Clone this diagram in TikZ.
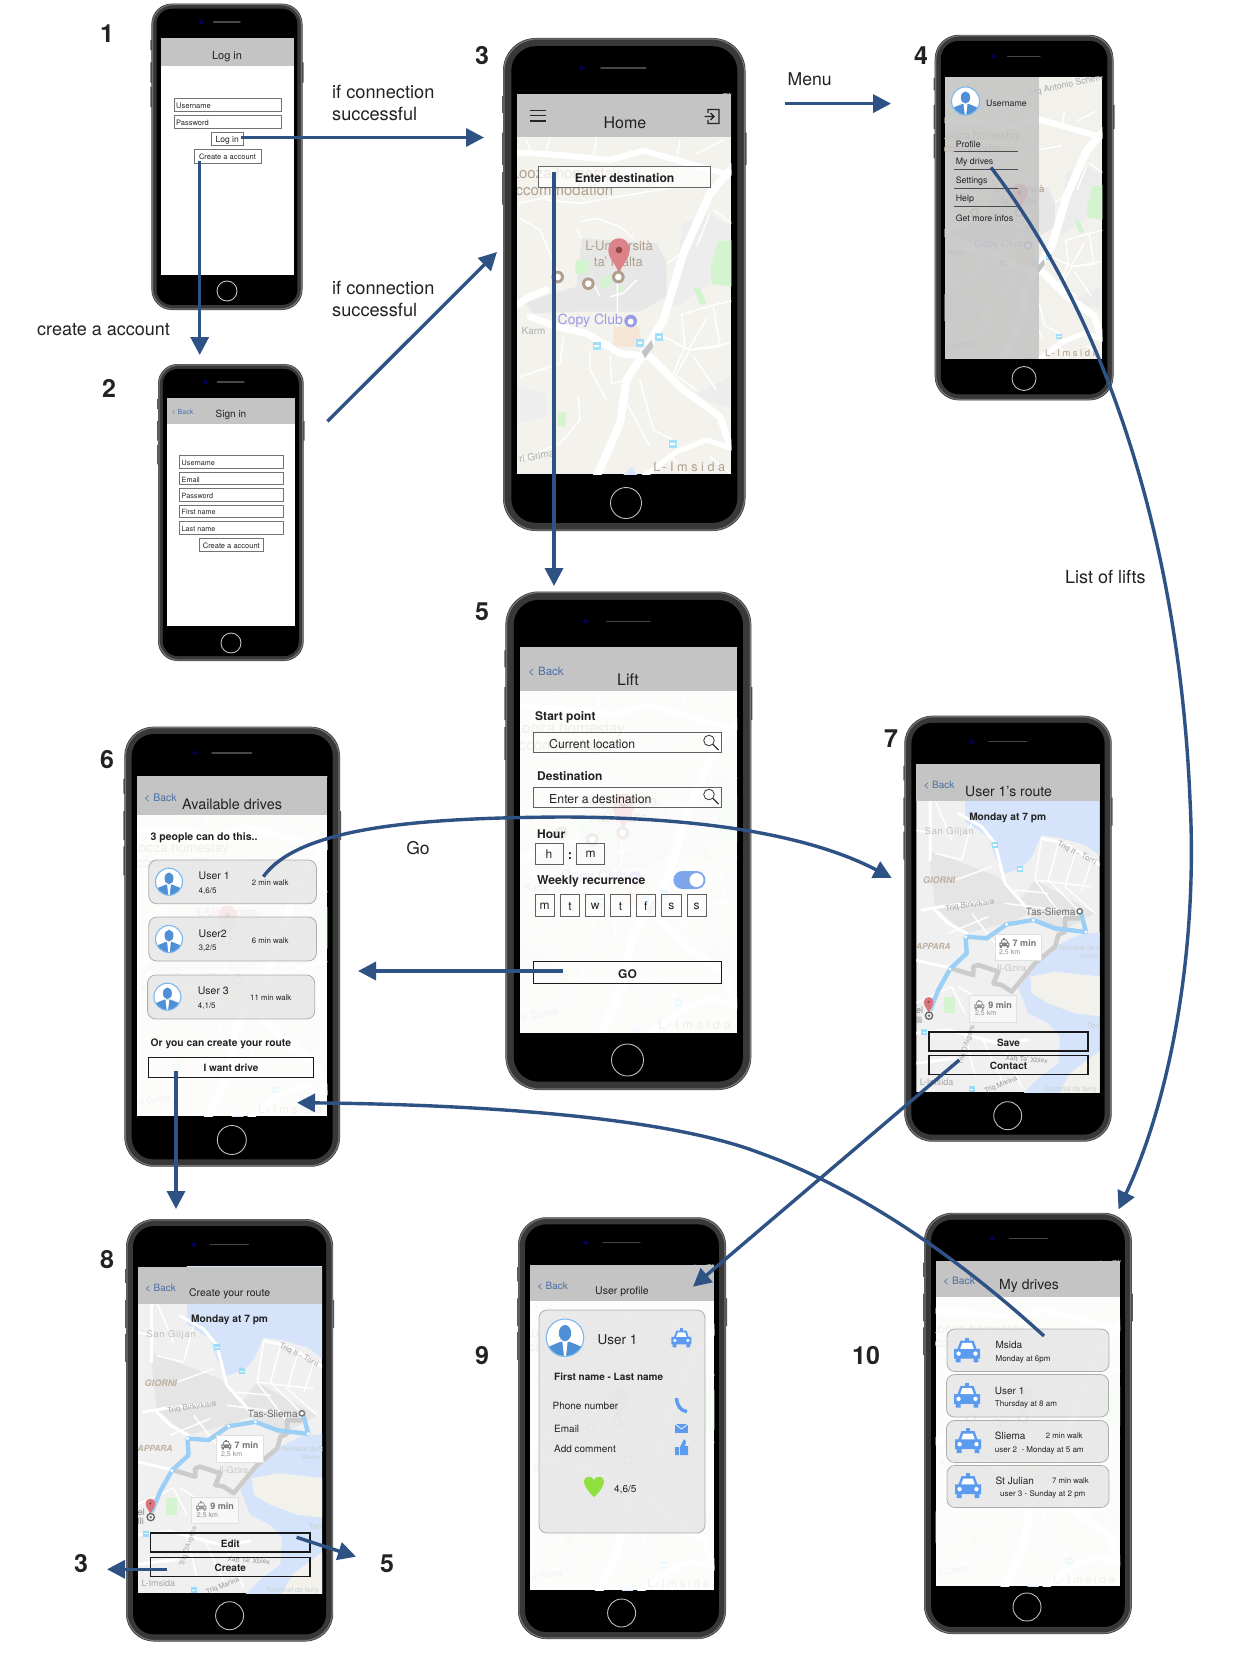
\documentclass[tikz,border=0pt]{standalone}
\usepackage{fontspec}
\setmainfont{TeX Gyre Heros}
\usetikzlibrary{arrows.meta}
\definecolor{conn}{HTML}{2F5285}
\definecolor{hdr}{HTML}{C4C4C4}
\definecolor{textdk}{HTML}{222222}
\definecolor{backblue}{HTML}{4A6FA5}
\definecolor{iconblue}{HTML}{5B9BF0}
\definecolor{mapbg}{HTML}{F2F1EC}
\definecolor{maptan}{HTML}{A8957F}
\definecolor{mapgrey}{HTML}{A5A5A5}
\definecolor{water}{HTML}{D5E4FB}
\definecolor{pinred}{HTML}{D9757D}
\definecolor{avblue}{HTML}{4F8FD6}
\definecolor{avring}{HTML}{7DB8EE}
\definecolor{routeblue}{HTML}{9CCFF5}
\definecolor{togglebl}{HTML}{7EA6EC}
\definecolor{heartgr}{HTML}{90E040}
\definecolor{copyclub}{HTML}{8F8FE6}
\newcounter{tn}
\newcommand\fs[1]{\fontsize{#1}{#1}\selectfont}
\tikzset{
  tnode/.style={inner sep=0pt,text=textdk,yshift=-1pt},
  conline/.style={draw=conn,line width=3.4pt,-{Triangle[length=18pt,width=18pt]}},
  fieldbox/.style={draw=#1,line width=.9pt},
  fieldbox/.default={gray!90!black},
  card/.style={draw=black!32,fill=black!10,fill opacity=.8,line width=.8pt,rounded corners=8pt},
  maproad/.style={draw=white,line width=#1,line join=round,line cap=round},
  maproad/.default=5pt,
  mapthin/.style={draw=white,line width=1.4pt,line join=round},
}
% text helpers: [opts]{x}{y}{size}{text}
\newcommand\mytx[5][]{\stepcounter{tn}\node[tnode,#1] (t\arabic{tn}) at (#2,#3) {\fs{#4}#5};}
\newcommand\mytl[5][]{\stepcounter{tn}\node[tnode,anchor=west,#1] (t\arabic{tn}) at (#2,#3) {\fs{#4}#5};}
\newcommand\mapt[5][]{\stepcounter{tn}\node[inner sep=0pt,transform shape,#1] (t\arabic{tn}) at (#2,#3) {\fs{#4}#5};}
% phone {x0}{y0}{x1}{y1}
\newcommand\phoneshell[4]{%
  \pgfmathsetmacro\pw{#3-#1}\pgfmathsetmacro\ph{#4-#2}%
  \pgfmathsetmacro\pr{.135*\pw}\pgfmathsetmacro\pb{.034*\pw}%
  \pgfmathsetmacro\ra{#2+.118*\ph}\pgfmathsetmacro\rb{#2+.152*\ph}%
  \pgfmathsetmacro\rc{#2+.192*\ph}\pgfmathsetmacro\rd{#2+.258*\ph}%
  \pgfmathsetmacro\re{#2+.272*\ph}\pgfmathsetmacro\rf{#2+.338*\ph}%
  \fill[black!65] (#1-1,\ra) rectangle (#1+2,\rb) (#1-1,\rc) rectangle (#1+2,\rd) (#1-1,\re) rectangle (#1+2,\rf) (#3-2,\rc) rectangle (#3+1,\rd);
  \fill[black!78,rounded corners=\pr pt] (#1,#2) rectangle (#3,#4);
  \draw[black!55,line width=1.2pt,rounded corners=\pr pt] (#1+1,#2+1) rectangle (#3-1,#4-1);
  \pgfmathsetmacro\prr{\pr-\pb}%
  \fill[black,rounded corners=\prr pt] (#1+\pb,#2+\pb) rectangle (#3-\pb,#4-\pb);
}
% {camx}{camy}{spk0}{spk1}{homex}{homey}{homer}
\newcommand\phonedec[7]{%
  \fill[blue!35!black] (#1,#2) circle [radius=2.2];
  \draw[black!72,line width=1.4pt,line cap=round] (#3,#2) -- (#4,#2);
  \draw[black!25,line width=.9pt] (#5,#6) circle [radius=#7];
}
\newcommand\hdrbar[4]{\fill[hdr] (#1,#2) rectangle (#3,#4);}
\newcommand\btnbox[7][]{% [style]{x0}{y0}{x1}{y1}{size}{text}
  \stepcounter{tn}\draw[fieldbox,#1] (#2,#3) rectangle (#4,#5) node[midway,tnode] (t\arabic{tn}) {\fs{#6}#7};}
\newcommand\fieldl[7][]{% left-aligned text field
  \draw[fieldbox,#1] (#2,#3) rectangle (#4,#5);
  \stepcounter{tn}\node[tnode,anchor=west] (t\arabic{tn}) at ({#2+2},{(#3+#5)/2}) {\fs{#6}#7};}
\newcommand\caricon[4]{\begin{scope}[shift={(#1,#2)},scale=#3]
  \fill[#4,rounded corners=.15pt] (-1,-.15) rectangle (1,.6);
  \fill[#4] (-.88,.5) rectangle (-.5,.9) (.5,.5) rectangle (.88,.9);
  \fill[#4] (-.75,-.1)--(-.5,-.78)--(.5,-.78)--(.75,-.1)--cycle;
  \fill[#4] (-.17,-1)rectangle(.17,-.75);
  \fill[white] (-.52,-.15)--(-.36,-.6)--(.36,-.6)--(.52,-.15)--cycle;
  \fill[white] (-.65,.22) circle [radius=.17] (.65,.22) circle [radius=.17];
\end{scope}}
\newcommand\avatarpic[3]{\begin{scope}[shift={(#1,#2)},scale=#3]
  \begin{scope}
  \clip (0,0) circle [radius=1];
  \fill[white] (0,0) circle [radius=1];
  \fill[avblue] (0,-.25) ellipse [x radius=.33,y radius=.43];
  \fill[avblue] (-1,1.05)--(-.92,.5)--(-.25,.22)--(.25,.22)--(.92,.5)--(1,1.05)--cycle;
  \fill[white] (-.14,.22)--(.14,.22)--(.05,1)--(-.05,1)--cycle;
  \end{scope}
  \draw[avring,line width=1.1pt] (0,0) circle [radius=1];
\end{scope}}
\newcommand\searchicon[2]{%
  \draw[black!80,line width=.8pt] (#1-1.5,#2-1.5) circle [radius=5.3];
  \draw[black!80,line width=1.1pt] (#1+2.3,#2+2.3) -- (#1+8,#2+8);}
% campus map in screen {x0}{y0}{x1}{y1}, veil opacity
\newcommand\campusmap[5]{\begin{scope}
  \clip (#1,#2) rectangle (#3,#4);
  \fill[mapbg] (#1,#2) rectangle (#3,#4);
  \pgfmathsetmacro\mxs{(#3-#1)/214.3}\pgfmathsetmacro\mys{(#4-#2)/380.3}
  \begin{scope}[shift={(#1,#2)},xscale=\mxs,yscale=\mys]
  \begin{scope}[shift={(-7,36.3)},scale=1/3]
    \fill[black!10] (215,325)--(440,340)--(470,400)--(470,500)--(390,545)--(200,545)--(70,550)--(45,520)--(130,490)--(200,470)--cycle;
    \fill[black!8] (520,280)--(600,250)--(660,290)--(660,330)--(600,460)--(500,530)--(480,520)--cycle;
    \fill[black!8] (560,790)--(660,740)--(660,830)--(610,820)--cycle;
    \fill[black!7] (20,770)--(110,790)--(110,860)--(20,880)--cycle;
    \fill[green!14!mapbg] (198,392)--(240,388)--(232,432)--(195,432)--cycle (270,445)--(310,430)--(300,470)--(272,475)--cycle (625,335)--(665,330)--(665,470)--(605,462)--(602,410)--cycle (550,470)--(570,475)--(590,520)--(570,525)--cycle (142,848)--(168,846)--(166,890)--(142,888)--cycle (320,470)--(342,470)--(335,490)--cycle;
    \fill[orange!12!mapbg] (312,590)--(385,590)--(400,652)--(310,648)--cycle;
    \fill[water] (335,1040)--(365,1010)--(385,1040)--cycle;
    \path[mapthin] (215,275)--(260,265)--(330,290)--(370,325) (200,295)--(215,325) (470,400)--(530,360) (380,450)--(340,490)--(300,500) (322,460)--(322,590) (240,440)--(270,500)
      (610,240)--(680,290) (600,250)--(560,350) (510,555)--(610,525)--(680,510) (515,555)--(525,650)--(490,730)--(560,780) (610,530)--(630,650)--(540,660)--(430,605) (590,565)--(535,660)--(660,640) (540,660)--(500,730) (550,680)--(620,780)
      (30,265)--(90,300)--(150,440) (100,170)--(110,210)--(210,220)--(500,170) (25,220)--(120,200) (240,660)--(240,720)--(290,810) (300,680)--(305,760)--(350,750) (160,620)--(150,700)--(30,740) (205,800)--(210,870)--(150,940)--(30,990) (390,750)--(430,900)--(490,930) (350,820)--(420,950) (50,30)--(60,60) (120,25)--(110,60) (260,20)--(250,80) (510,30)--(500,90) (560,70)--(640,30) (600,980)--(660,1030) (480,970)--(520,1030);
    \path[maproad=6pt] (-20,65)--(150,75)--(300,90)--(400,62)--(500,90)--(640,130)--(700,125);
    \path[maproad=8pt] (680,100)--(600,190)--(520,370)--(460,570)--(400,670)--(350,750)--(330,880)--(255,1050);
    \path[maproad=7pt] (-20,550)--(60,500)--(110,480) (60,560)--(140,590)--(230,610)--(330,670)--(420,680)--(520,780)--(630,860)--(660,950);
    \path[maproad=5pt] (400,1040)--(500,965)--(590,930)--(680,960);
    \fill[black!25] (395,665) -- (425,630) -- (430,650) -- (405,685) -- cycle;
    \mapt[anchor=west,text=maptan]{2}{135}{45}{Looza homestay}
    \mapt[anchor=west,text=maptan]{-8}{180}{45}{accommodation}
    \mapt[text=mapgrey,rotate=12]{531}{-76}{36}{Triq Antonio Schembri}
    \mapt[text=maptan]{327}{347}{39}{L-Università}
    \mapt[text=maptan]{325}{395}{39}{ta' Malta}
    \fill[pinred] (327,435) .. controls (320,400) and (295,390) .. (295,360) .. controls (295,313) and (359,313) .. (359,360) .. controls (359,390) and (334,400) .. (327,435) -- cycle;
    \fill[red!40!black!80] (327,360) circle [radius=10];
    \foreach \mx/\my in {143/441,235/461,325/441} {\fill[maptan] (\mx,\my) circle [radius=19]; \fill[white] (\mx,\my) circle [radius=10];}
    \mapt[anchor=west,text=copyclub]{143}{572}{42}{Copy Club}
    \fill[copyclub] (362,573) circle [radius=19]; \fill[white] (362,575) circle [radius=9];
    \mapt[anchor=west,text=mapgrey]{35}{603}{30}{Karm}
    \mapt[rotate=10,text=mapgrey]{80}{978}{30}{ri Grima}
    \mapt[anchor=west,text=maptan]{430}{1010}{38}{\addfontfeature{LetterSpace=28}L-Imsida}
    \foreach \mx/\my in {260/647,390/640,447/622,488/943} {\fill[cyan!40!white] (\mx-12,\my-12) rectangle (\mx+12,\my+12); \fill[white] (\mx-7,\my-3) rectangle (\mx+7,\my+3);}
  \end{scope}
  \end{scope}
  \fill[white,opacity=#5] (#1,#2) rectangle (#3,#4);
\end{scope}}
% Sliema map in screen {x0}{y0}{x1}{y1}
\newcommand\sliemamap[4]{\begin{scope}
  \clip (#1,#2) rectangle (#3,#4);
  \fill[black!6] (#1,#2) rectangle (#3,#4);
  \pgfmathsetmacro\mxs{(#3-#1)/183.4}\pgfmathsetmacro\mys{(#4-#2)/328.3}
  \begin{scope}[shift={(#1,#2)},xscale=\mxs,yscale=\mys]
  \begin{scope}[shift={(-1.3,36)},scale=1/3]
    \fill[black!10] (40,150)--(250,230)--(350,340)--(270,370)--(150,400)--(60,320)--cycle (360,240)--(540,340)--(430,400)--(300,320)--cycle;
    \fill[water] (150,-120)--(565,-120)--(565,175)--(510,135)--(440,115)--(380,105)--(350,170)--(320,205)--(265,222)--(240,170)--(220,110)--(150,65)--cycle;
    \fill[water] (565,395)--(490,405)--(420,440)--(360,500)--(310,565)--(340,640)--(400,670)--(435,710)--(430,790)--(370,835)--(320,885)--(565,885)--cycle;
    \fill[mapbg] (345,530)--(420,515)--(565,530)--(565,650)--(480,640)--(400,610)--(350,580)--cycle;
    \fill[mapbg] (430,885)--(465,820)--(565,745)--(565,885)--cycle;
    \path[maproad=3pt] (45,-100)--(45,180) (130,40)--(200,80)--(240,130)--(270,250)--(350,340) (20,330)--(90,318)--(220,305) (60,330)--(100,370)--(155,400) (0,480)--(110,505) (380,115)--(450,130)--(565,200) (0,700)--(100,690)--(250,730)--(340,720) (0,790)--(120,775);
    \path[mapthin] (380,115)--(360,240)--(450,360) (430,130)--(400,240)--(500,340) (480,160)--(450,260)--(540,340) (530,180)--(500,270) (360,240)--(530,260) (300,270)--(400,280) (270,310)--(430,330) (170,70)--(140,180)--(60,160) (120,240)--(230,200) (100,400)--(220,350) (170,340)--(240,430) (0,610)--(110,560)--(150,640) (130,560)--(260,640) (150,700)--(180,830) (200,710)--(260,840) (60,0)--(110,120) (0,90)--(45,100) (260,730)--(320,860);
    \fill[green!12!mapbg] (88,590) rectangle (120,640);
    \path[draw=black!20,line width=4.6pt,line join=round] (108,505)--(175,525)--(175,500)--(190,495)--(250,515)--(235,550)--(260,555)--(290,575)--(360,490)--(420,440)--(430,405)--(450,395)--(450,355)--(495,355);
    \path[draw=routeblue,line width=4.4pt,line join=round] (45,632)--(70,570)--(105,507)--(155,460)--(152,410)--(215,415)--(275,373)--(355,360)--(420,385)--(513,396)--(497,335);
    \foreach \mx/\my in {105/507,152/410,275/373,355/360,513/396} {\fill[white] (\mx,\my) circle [radius=5];}
    \draw[black!55,fill=white,line width=1.4pt] (494,334) circle [radius=8];
    \mapt[text=black!25]{103}{97}{28}{\addfontfeature{LetterSpace=8}San Giljan}
    \mapt[text=maptan!75]{72}{242}{27}{\itshape\bfseries GIORNI}
    \mapt[text=black!35,rotate=8]{165}{317}{24}{Triq Birkirkara}
    \mapt[text=black!58]{407}{336}{30}{Tas-Sliema}
    \mapt[text=maptan!75]{55}{440}{25}{\itshape\bfseries APPARA}
    \mapt[text=black!22]{290}{505}{27}{Il-Gzira}
    \mapt[text=black!35,rotate=-27]{485}{160}{24}{Triq It - Torri}
    \mapt[text=cyan!25!black!25,anchor=west]{430}{445}{21}{Terminal de ferry}
    \mapt[text=cyan!25!black!25]{520}{468}{18}{Sliema}
    \mapt[text=black!50,anchor=west]{3}{632}{27}{el}
    \mapt[text=black!50,anchor=west]{3}{660}{27}{lli}
    \mapt[text=cyan!25!black!25,anchor=west]{515}{677}{24}{Ten}
    \mapt[text=black!35,rotate=72]{155}{735}{21}{Triq D'Argens}
    \mapt[text=black!40,rotate=22]{258}{855}{21}{Triq Marina}
    \mapt[text=black!40,rotate=-4]{335}{778}{21}{Xatt Ta' Xbiex}
    \mapt[text=black!35]{65}{848}{27}{L-Imsida}
    \mapt[text=cyan!25!black!25,anchor=west]{388}{870}{21}{Terminal de ferry}
    \foreach \mx/\my in {240/135,315/207,28/697,170/868} {\fill[cyan!40!white] (\mx-9,\my-9) rectangle (\mx+9,\my+9); \fill[white] (\mx-5,\my-2) rectangle (\mx+5,\my+2);}
    \fill[pinred] (41,640) .. controls (37,625) and (27,620) .. (27,607) .. controls (27,586) and (55,586) .. (55,607) .. controls (55,620) and (45,625) .. (41,640) -- cycle;
    \fill[red!40!black!70] (41,606) circle [radius=4];
    \draw[black!60,line width=1.3pt] (42,647) circle [radius=11]; \fill[black!60] (42,647) circle [radius=4];
    \fill[white,draw=black!12,line width=1pt] (240,402) rectangle (378,482);
    \mapt[anchor=west,text=black!55]{293}{430}{27}{\bfseries 7 min}
    \mapt[anchor=west,text=black!45]{252}{457}{21}{2,5 km}
    \fill[black!3,draw=black!12,line width=1pt] (163,587) rectangle (303,667);
    \mapt[anchor=west,text=black!55]{220}{615}{27}{\bfseries 9 min}
    \mapt[anchor=west,text=black!45]{180}{641}{21}{2,5 km}
  \end{scope}
  \pgfmathsetmacro\cxa{(268/3-1.3)}\pgfmathsetmacro\cya{(430/3+36)}\pgfmathsetmacro\cxb{(193/3-1.3)}\pgfmathsetmacro\cyb{(615/3+36)}
  \caricon{\cxa}{\cya}{5}{black!50}
  \caricon{\cxb}{\cyb}{5}{black!40}
  \end{scope}
\end{scope}}
\begin{document}
\begin{tikzpicture}[x=1pt,y=-1pt,line cap=butt]
\useasboundingbox (0,0) rectangle (1239,1653);
\fill[white] (0,0) rectangle (1239,1653);

%%% Phone 1
\phoneshell{151.4}{3.6}{302.5}{310}
\fill[white] (160.5,38.4) rectangle (293.8,274.5);
\hdrbar{160.5}{38.4}{293.8}{66}
\mytx{227}{56}{11}{Log in}
\fieldl{174}{98.6}{281}{111.6}{7.5}{Username}
\fieldl{174}{115}{281}{128.6}{7.5}{Password}
\btnbox{211.5}{132.6}{243}{145.5}{8.5}{Log in}
\btnbox{194}{149.5}{261}{163}{7.5}{Create a account}
\phonedec{201}{22}{213.5}{240}{227}{291}{10}

%%% Phone 2
\phoneshell{158}{364}{303.7}{661}
\fill[white] (166.5,398) rectangle (295.4,626.3);
\hdrbar{166.5}{398}{295.4}{424}
\mytl[text=backblue]{171.5}{411}{7}{< Back}
\mytx{231}{414}{10}{Sign in}
\fieldl{179.5}{455.8}{283}{468.3}{7.2}{Username}
\fieldl{179.5}{472.3}{283}{484.8}{7.2}{Email}
\fieldl{179.5}{488.8}{283}{501}{7.2}{Password}
\fieldl{179.5}{505.3}{283}{517.4}{7.2}{First name}
\fieldl{179.5}{521.4}{283}{534}{7.2}{Last name}
\btnbox{199.3}{538.4}{263.3}{551}{7.5}{Create a account}
\phonedec{205.6}{382}{217.5}{244}{231}{643}{10}

%%% Phone 3
\phoneshell{503}{38}{745.5}{531}
\campusmap{517}{93.7}{731.3}{474}{.1}
\hdrbar{517}{93.7}{731.3}{136.6}
\mytx{625}{122}{16}{Home}
\draw[black!85,line width=1.4pt] (530,110.3)--(545.6,110.3) (530,115.6)--(545.6,115.6) (530,121)--(545.6,121);
\draw[black!85,line width=1.3pt] (708,113)--(708,109.5)--(719,109.5)--(719,123.5)--(708,123.5)--(708,120) (704.5,116.5)--(714,116.5) (710.5,113)--(714,116.5)--(710.5,120);
\btnbox[fill=white,fill opacity=.75,text opacity=1,draw=black!60]{538.5}{166}{710.8}{187.5}{12.2}{\bfseries Enter destination}
\phonedec{581.6}{68}{601}{645.7}{626}{503}{15.5}

%%% Phone 4
\phoneshell{934.7}{34.8}{1113.5}{400.4}
\campusmap{944.5}{76.8}{1102.4}{358.5}{.05}
\fill[hdr,opacity=.86] (944.5,76.8) rectangle (1039,358.5);
\avatarpic{965.5}{101}{14}
\mytl{986}{102}{8.8}{Username}
\mytl{955.6}{143}{8.8}{Profile}
\mytl{955.6}{161.6}{8.8}{My drives}
\mytl{955.6}{180}{8.8}{Settings}
\mytl{955.6}{198.6}{8.8}{Help}
\mytl{955.6}{217.4}{8.8}{Get more infos}
\draw[black!70,line width=1pt] (954.4,151.8)--(1018,151.8) (954.4,170)--(1018,170) (954.4,188.8)--(1018,188.8) (954.4,207)--(1018,207);
\phonedec{993}{56.7}{1007.7}{1040}{1024}{378.5}{12}

%%% Phone 5
\phoneshell{505.4}{591.5}{751.3}{1090}
\campusmap{520}{647}{737}{1032.6}{.83}
\hdrbar{520}{647}{737}{691}
\mytl[text=backblue]{528}{671}{11.5}{< Back}
\mytx{628}{679}{16}{Lift}
\mytl{535}{716.7}{12}{\bfseries Start point}
\draw[fieldbox=black!62] (533.6,732) rectangle (721.4,752.7);
\mytl{549}{743.3}{12.2}{Current location}
\searchicon{710.5}{742}
\mytl{537}{774.7}{12}{\bfseries Destination}
\draw[fieldbox=black!62] (533.6,787.3) rectangle (721.4,807.3);
\mytl{549}{797.7}{12.3}{Enter a destination}
\searchicon{710.5}{796}
\mytl{537}{833}{12}{\bfseries Hour}
\btnbox[black!62]{535}{843}{563}{864}{12}{h}
\mytx{570}{854.7}{13}{\bfseries :}
\btnbox[black!62]{576.6}{843}{604.4}{864}{12}{m}
\mytl{537}{880.7}{12.2}{\bfseries Weekly recurrence}
\fill[togglebl,rounded corners=8.9pt] (673.4,871) rectangle (705.4,889);
\fill[white] (696.5,880) circle [radius=7];
\btnbox[black!62]{535}{894.7}{554.4}{916}{12}{m}
\btnbox[black!62]{560.3}{894.7}{579.6}{916}{12}{t}
\btnbox[black!62]{585.5}{894.7}{604.9}{916}{12}{w}
\btnbox[black!62]{610.8}{894.7}{630.2}{916}{12}{t}
\btnbox[black!62]{636}{894.7}{655.4}{916}{12}{f}
\btnbox[black!62]{661.7}{894.7}{681}{916}{12}{s}
\btnbox[black!62]{687}{894.7}{706.3}{916}{12}{s}
\btnbox[draw=black!90,line width=1.1pt]{533.6}{961.7}{721.4}{983.7}{12}{\bfseries GO}
\phonedec{585.6}{621.4}{607}{650}{627.5}{1060}{16}

%%% Phone 6
\phoneshell{124.4}{726.7}{340}{1166.7}
\campusmap{137}{776.3}{327.3}{1116}{.84}
\hdrbar{137}{776.3}{327.3}{814.7}
\mytl[text=backblue]{144}{797}{10.5}{< Back}
\mytl{182}{803}{14.4}{Available drives}
\mytl{150.5}{837}{10.5}{\bfseries 3 people can do this..}
\draw[card] (148.8,860) rectangle (316.4,903.7);
\draw[card] (148.8,917) rectangle (316.4,961);
\draw[card] (147.6,975) rectangle (314.7,1019);
\avatarpic{169}{881.7}{13.5}
\avatarpic{169}{939}{13.5}
\avatarpic{167.4}{996.7}{13.5}
\mytl{198.5}{875}{10.5}{User 1}
\mytl{198.5}{889.7}{8}{4,6/5}
\mytl{251.6}{881.7}{7.8}{2 min walk}
\mytl{198.5}{932.3}{10.5}{User2}
\mytl{198.5}{947}{8}{3,2/5}
\mytl{251.6}{939.3}{7.8}{6 min walk}
\mytl{197.7}{990}{10.5}{User 3}
\mytl{197.7}{1004.7}{8}{4,1/5}
\mytl{250}{996.7}{7.8}{11 min walk}
\mytl{150.5}{1042.7}{10.3}{\bfseries Or you can create your route}
\btnbox[draw=black!90,line width=1pt]{148.4}{1057.3}{313.5}{1077.3}{10}{\bfseries I want drive}
\phonedec{194.7}{753}{212}{251.6}{231.8}{1140}{14.5}

%%% Phone 7
\phoneshell{904.3}{715.7}{1111.7}{1141.7}
\sliemamap{916.3}{764}{1099.7}{1092.3}
\hdrbar{916.3}{764}{1099.7}{801}
\mytl[text=backblue]{923.3}{784.3}{10}{< Back}
\mytl{965}{791}{14}{User 1's route}
\mytx{1007.7}{816.7}{10.2}{\bfseries Monday at 7 pm}
\btnbox[draw=black!90,line width=1.1pt]{929}{1032}{1088}{1051}{10}{\bfseries Save}
\btnbox[draw=black!90,line width=1.1pt]{929}{1055.7}{1088}{1074.7}{10}{\bfseries Contact}
\phonedec{972}{741.7}{989}{1026.7}{1007.7}{1115.7}{14}

%%% Phone 8
\phoneshell{126}{1219}{333.2}{1641.5}
\sliemamap{138}{1266.7}{322}{1593.3}
\hdrbar{138}{1266.7}{322}{1303.7}
\mytl[text=backblue]{144.8}{1287}{10}{< Back}
\mytx{229.6}{1293}{10.5}{Create your route}
\mytx{229.6}{1319}{10.2}{\bfseries Monday at 7 pm}
\btnbox[draw=black!90,line width=1.1pt]{150.6}{1533}{310}{1552}{10}{\bfseries Edit}
\btnbox[draw=black!90,line width=1.1pt]{150.6}{1557.7}{310}{1576.7}{10}{\bfseries Create}
\phonedec{194}{1244.7}{210.4}{248.4}{229.6}{1615.7}{14}

%%% Phone 9
\phoneshell{518}{1217.3}{726}{1639}
\campusmap{530}{1264.7}{714.4}{1590.3}{.84}
\hdrbar{530}{1264.7}{714.4}{1301}
\mytl[text=backblue]{536.8}{1284.7}{10}{< Back}
\mytx{622}{1291}{10.5}{User profile}
\draw[card] (539,1310) rectangle (705,1533);
\avatarpic{565}{1337.7}{18.7}
\mytl{597.5}{1339}{13.5}{User 1}
\caricon{681.4}{1338.3}{10}{iconblue}
\mytl{554}{1376.3}{10}{\bfseries First name - Last name}
\mytl{552.4}{1405.3}{10}{Phone number}
\mytl{554}{1428.3}{10}{Email}
\mytl{554}{1448.3}{10}{Add comment}
\draw[iconblue,line width=3.4pt] (676.5,1398) .. controls (677,1406) and (681,1411) .. (687,1411.5);
\fill[iconblue] (675,1423.5) rectangle (688,1433);
\draw[white,line width=.7pt] (675,1424)--(681.5,1429)--(688,1424);
\fill[iconblue] (675,1447) rectangle (679,1455) (680,1447)--(684,1439)--(686,1441)--(685,1446)--(688,1446)--(688,1455)--(680,1455)--cycle;
\fill[heartgr] (594,1497) .. controls (586,1490) and (584,1484) .. (584,1481) .. controls (584,1476) and (592,1475) .. (594,1480) .. controls (596,1475) and (604,1476) .. (604,1481) .. controls (604,1484) and (602,1490) .. (594,1497) -- cycle;
\mytl{614}{1488.7}{10}{4,6/5}
\phonedec{586}{1242.7}{603}{640}{621.6}{1613}{14}

%%% Phone 10
\phoneshell{924}{1212.8}{1131.8}{1634}
\campusmap{935.7}{1260.7}{1120}{1586}{.84}
\hdrbar{935.7}{1260.7}{1120}{1297}
\mytl[text=backblue]{943}{1280.5}{10.3}{< Back}
\mytl{999}{1285}{14}{My drives}
\draw[card] (947,1329) rectangle (1109,1371.5);
\draw[card] (946.5,1374.5) rectangle (1108.5,1417);
\draw[card] (946.5,1420.5) rectangle (1108.5,1462.4);
\draw[card] (947,1465.5) rectangle (1109,1507.4);
\caricon{967}{1350.7}{13}{iconblue}
\caricon{967}{1396}{13}{iconblue}
\caricon{968}{1441.3}{13}{iconblue}
\caricon{968}{1486.3}{13}{iconblue}
\mytl{995.4}{1344.3}{10}{Msida}
\mytl{995.4}{1358.4}{8}{Monday at 6pm}
\mytl{994.7}{1389.6}{10}{User 1}
\mytl{994.7}{1403.7}{8}{Thursday at 8 am}
\mytl{994.7}{1435}{10}{Sliema}
\mytl{1045.7}{1435}{7.8}{2 min walk}
\mytl{994.7}{1449}{8}{user 2 ~- Monday at 5 am}
\mytl{995.4}{1480}{10}{St Julian}
\mytl{1051.8}{1480}{7.8}{7 min walk}
\mytl{1000}{1493.7}{8}{user 3 - Sunday at 2 pm}
\phonedec{992.4}{1238.3}{1009.5}{1047.4}{1027}{1607}{14}

%%% Free labels
\mytx{107}{33}{25}{\bfseries 1}
\mytx{109}{387}{25}{\bfseries 2}
\mytx{482}{55}{25}{\bfseries 3}
\mytx{921}{55}{25}{\bfseries 4}
\mytx{482}{611}{25}{\bfseries 5}
\mytx{107}{759}{25}{\bfseries 6}
\mytx{891}{738}{25}{\bfseries 7}
\mytx{107}{1259}{25}{\bfseries 8}
\mytx{482}{1355}{25}{\bfseries 9}
\mytx{866}{1355}{25}{\bfseries 10}
\mytx{81}{1563}{25}{\bfseries 3}
\mytx{387}{1563}{25}{\bfseries 5}
\mytl{332}{91}{18.2}{if connection}
\mytl{332}{113}{18.2}{successful}
\mytl{332}{286.5}{18.2}{if connection}
\mytl{332}{308.5}{18.2}{successful}
\mytl{37}{329}{18}{create a account}
\mytl{787.4}{78}{17.6}{Menu}
\mytl{1065}{576}{18}{List of lifts}
\mytx{418}{847}{17.5}{Go}

%%% Connector ends
\coordinate (loginbtn) at (241,137.5);
\coordinate (homeleft) at (484,137.5);
\coordinate (createbtn) at (199.7,160.7);
\coordinate (signtop) at (199.7,355);
\coordinate (signright) at (327.4,421.4);
\coordinate (homeleft2) at (497,252);
\coordinate (menustart) at (785,103.6);
\coordinate (menutip) at (891,103.6);
\coordinate (destbox) at (554,172);
\coordinate (lifttop) at (554,586);
\coordinate (mydrives) at (991,167.4);
\coordinate (curveA) at (1190,800);
\coordinate (drivestop) at (1118.5,1209.4);
\coordinate (gobtn) at (563,971);
\coordinate (availright) at (358,971);
\coordinate (user1) at (263.4,876.7);
\coordinate (curveB) at (560,817);
\coordinate (routeleft) at (891.7,878);
\coordinate (msida) at (1044,1336);
\coordinate (curveC) at (760,1153);
\coordinate (availbottom) at (297,1102.7);
\coordinate (wantbtn) at (176,1070.7);
\coordinate (createtop) at (176,1209);
\coordinate (contactbtn) at (959.3,1060);
\coordinate (profiletip) at (693,1286.7);
\coordinate (editbtn) at (296.6,1537.3);
\coordinate (fiveend) at (356,1556.7);
\coordinate (createbtn2) at (167,1569.3);
\coordinate (threeend) at (107,1569.3);

%%% Connectors
\draw[conline] (loginbtn) -- (homeleft);
\draw[conline] (createbtn) -- (signtop);
\draw[conline] (signright) -- (homeleft2);
\draw[conline] (menustart) -- (menutip);
\draw[conline] (destbox) -- (lifttop);
\draw[conline] (mydrives) .. controls (1115,330) and (1180,560) .. (curveA) .. controls (1198,950) and (1170,1100) .. (drivestop);
\draw[conline] (gobtn) -- (availright);
\draw[conline] (user1) .. controls (300,825) and (430,818) .. (curveB) .. controls (700,817) and (810,835) .. (routeleft);
\draw[conline] (msida) .. controls (950,1250) and (850,1185) .. (curveC) .. controls (680,1122) and (520,1105) .. (availbottom);
\draw[conline] (wantbtn) -- (createtop);
\draw[conline] (contactbtn) -- (profiletip);
\draw[conline] (editbtn) -- (fiveend);
\draw[conline] (createbtn2) -- (threeend);
\end{tikzpicture}
\end{document}
